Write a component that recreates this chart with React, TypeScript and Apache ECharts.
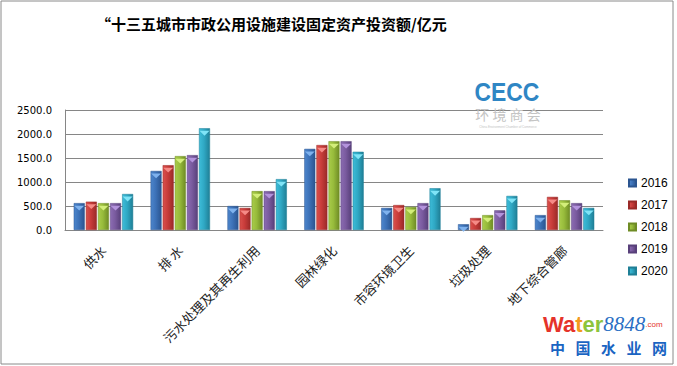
import React, { useEffect, useRef } from "react";
import * as echarts from "echarts";

const categories = ["供水", "排 水", "污水处理及其再生利用", "园林绿化", "市容环境卫生", "垃圾处理", "地下综合管廊"];
const years = ["2016", "2017", "2018", "2019", "2020"];
const v2016 = [560, 1230, 500, 1690, 460, 120, 310];
const v2017 = [590, 1350, 460, 1770, 520, 250, 690];
const v2018 = [560, 1540, 810, 1850, 480, 310, 620];
const v2019 = [560, 1560, 810, 1850, 560, 410, 560];
const v2020 = [750, 2120, 1060, 1630, 870, 710, 460];
const yTicks = [0, 500, 1000, 1500, 2000, 2500];
const siteChars = ["中", "国", "水", "业", "网"];

const seriesValues = [v2016, v2017, v2018, v2019, v2020];
const baseColors = ["#3d72b8", "#c83c3a", "#97bb3b", "#7a5b9f", "#2fa8c4"];
const lightColors = ["#7fb2ee", "#f58a86", "#d3ee7a", "#b393dc", "#7fe4f7"];
const darkColors = ["#2b5590", "#9a2a28", "#6f8c25", "#58407a", "#1f7f96"];
const midLight = ["#4d86cc", "#da504c", "#a9cc4a", "#8b6cb2", "#3dbcd8"];

export default function App() {
  const ref = useRef<HTMLDivElement>(null);
  useEffect(() => {
    if (!ref.current) return;
    const chart = echarts.init(ref.current, null, { renderer: "svg" });
    const barSeries: any[] = years.map((y, i) => ({
      name: y,
      type: "bar",
      data: seriesValues[i],
      barWidth: 11,
      barGap: "10%",
      barCategoryGap: "22%",
      itemStyle: {
        color: new echarts.graphic.LinearGradient(0, 0, 1, 0, [
          { offset: 0, color: midLight[i] },
          { offset: 0.45, color: baseColors[i] },
          { offset: 1, color: darkColors[i] },
        ]),
        borderColor: darkColors[i],
        borderWidth: 0.5,
      },
    }));
    const capSeries: any[] = years.map((y, i) => ({
      name: y,
      type: "pictorialBar",
      data: seriesValues[i],
      barWidth: 11,
      barGap: "10%",
      barCategoryGap: "22%",
      symbol: "triangle",
      symbolRotate: 180,
      symbolSize: [10, 5],
      symbolPosition: "end",
      symbolOffset: [0, "50%"],
      itemStyle: { color: lightColors[i] },
      silent: true,
      z: 3,
    }));
    const siteTexts: any[] = siteChars.map((ch, k) => ({
      type: "text",
      x: 557.5 + k * 25.5,
      y: 347.5,
      style: {
        text: ch,
        fontFamily: "Noto Sans CJK SC",
        fontWeight: "bold",
        fontSize: 15,
        fill: "#1a64c2",
        align: "center",
        verticalAlign: "middle",
      },
      z: 10,
    }));
    chart.setOption({
      animation: false,
      grid: { left: 65, right: 74, top: 110, bottom: 136 },
      legend: {
        data: years,
        orient: "vertical",
        left: 623,
        top: 172,
        itemWidth: 7,
        itemHeight: 7,
        itemGap: 10,
        icon: "rect",
        textStyle: { fontFamily: "Liberation Sans", fontSize: 12, color: "#000" },
      },
      xAxis: {
        type: "category",
        data: categories,
        axisLine: { lineStyle: { color: "#868686" } },
        axisTick: { show: false },
        axisLabel: {
          rotate: 45,
          interval: 0,
          margin: 18,
          fontFamily: "Noto Sans CJK SC",
          fontSize: 13,
          color: "#222",
        },
      },
      yAxis: {
        type: "value",
        min: yTicks[0],
        max: yTicks[yTicks.length - 1],
        interval: 500,
        axisLine: { show: true, lineStyle: { color: "#868686" } },
        axisTick: { show: false },
        splitLine: { lineStyle: { color: "#868686" } },
        axisLabel: {
          margin: 13,
          fontFamily: "DejaVu Sans",
          fontSize: 10,
          color: "#000",
          formatter: (v: number) => v.toFixed(1),
        },
      },
      series: [...barSeries, ...capSeries],
      graphic: [
        {
          type: "rect",
          shape: { x: 1, y: 1, width: 672, height: 363 },
          style: { fill: "none", stroke: "#8a8a8a", lineWidth: 1 },
          silent: true,
          z: -1,
        },
        {
          type: "text",
          x: 96,
          y: 23,
          style: {
            text: "“十三五城市市政公用设施建设固定资产投资额/亿元",
            fontFamily: "Noto Sans CJK SC",
            fontWeight: "bold",
            fontSize: 15,
            fill: "#000",
            align: "left",
            verticalAlign: "middle",
          },
        },
        {
          type: "text",
          x: 507,
          y: 92,
          scaleX: 0.88,
          style: {
            text: "CECC",
            fontFamily: "Liberation Sans",
            fontWeight: "bold",
            fontSize: 26,
            align: "center",
            verticalAlign: "middle",
            fill: "#2f86c4",
          },
          z: 10,
        },
        {
          type: "text",
          x: 508,
          y: 114,
          style: {
            text: "环 境 商 会",
            fontFamily: "Noto Sans CJK SC",
            fontSize: 14,
            fill: "#c4c4c4",
            align: "center",
            verticalAlign: "middle",
          },
          z: 10,
        },
        {
          type: "text",
          x: 508,
          y: 127,
          style: {
            text: "China Environment Chamber of Commerce",
            fontFamily: "Liberation Sans",
            fontSize: 3,
            fill: "#c4c4c4",
            align: "center",
            verticalAlign: "middle",
          },
          z: 10,
        },
        {
          type: "text",
          x: 543,
          y: 335,
          style: {
            rich: {
              r: { fill: "#e5332a", fontFamily: "Liberation Sans", fontWeight: "bold", fontSize: 22 },
              o: { fill: "#f39a1c", fontFamily: "Liberation Sans", fontWeight: "bold", fontSize: 22 },
              g: { fill: "#8dc43c", fontFamily: "Liberation Sans", fontWeight: "bold", fontSize: 22 },
              b: { fill: "#2a6fc4", fontFamily: "Liberation Serif", fontStyle: "italic", fontSize: 21 },
              c: { fill: "#e5332a", fontFamily: "Liberation Sans", fontSize: 8 },
            },
            text: "{r|Wa}{o|t}{g|er}{b|8848}{c|.com}",
            verticalAlign: "bottom",
          },
          z: 10,
        },
        ...siteTexts,
      ],
    });
    return () => chart.dispose();
  }, []);
  return (
    <div
      ref={ref}
      style={{ position: "absolute", left: 0, top: 0, width: 677, height: 366, background: "#fff" }}
    />
  );
}
